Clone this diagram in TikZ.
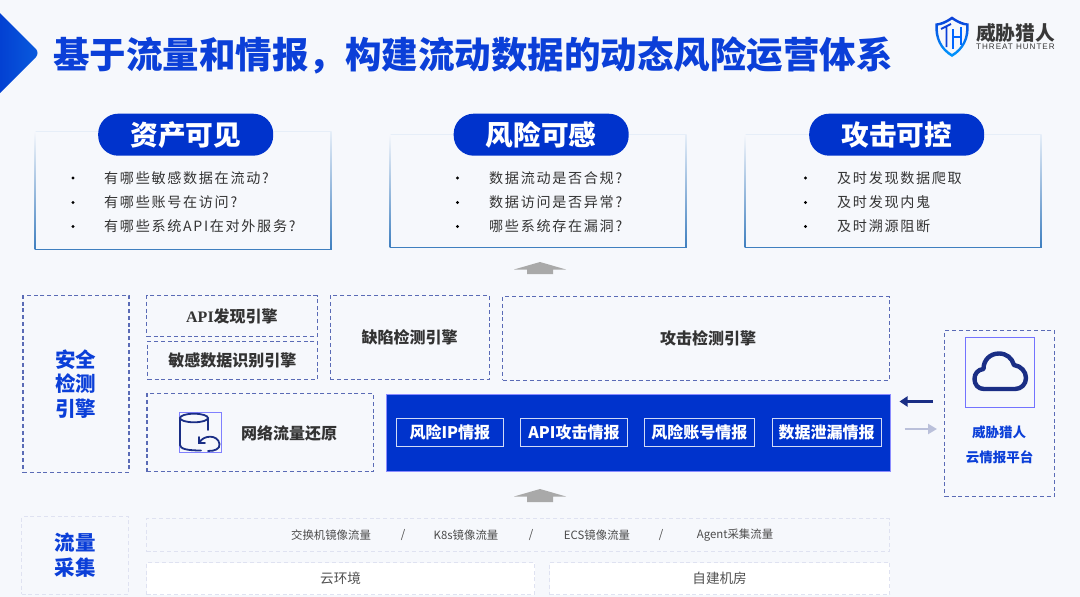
\documentclass[tikz,border=0pt]{standalone}
\usepackage{fontspec}
\usetikzlibrary{arrows.meta}
\setmainfont{Noto Sans CJK SC}
\newfontfamily\cjk{Noto Sans CJK SC}
\newfontfamily\cjkt[LetterSpace=12]{Noto Sans CJK SC}
\newfontfamily\latnw[LetterSpace=12]{Liberation Sans}
\newfontfamily\serifl{Liberation Serif}
\definecolor{bgc}{HTML}{F6F8FC}
\definecolor{mainblue}{HTML}{0033CC}
\definecolor{titleblue}{HTML}{0B3FD8}
\definecolor{dashc}{HTML}{5A6BB6}
\definecolor{lightd}{HTML}{DFE2F1}
\definecolor{navy}{HTML}{1A2E85}
\definecolor{framec}{HTML}{3F7FBF}
\definecolor{framelt}{HTML}{E6EEF8}
\definecolor{txt}{HTML}{333333}
\definecolor{arrowg}{HTML}{A9A9A9}
\tikzset{
  x=1pt,y=-1pt,
  box/.style={draw=dashc,line width=1.4pt,dash pattern=on 4pt off 2.8pt,anchor=north west,inner sep=0pt,rectangle},
  lbox/.style={draw=lightd,line width=1.2pt,dash pattern=on 4pt off 2.8pt,anchor=north west,inner sep=0pt,rectangle},
  wbox/.style={lbox,fill=white,text=black!68,font=\cjk\fontsize{13.6}{15}\selectfont},
  ebox/.style={box,font=\cjk\bfseries\fontsize{16}{18}\selectfont,text=txt},
  intelbox/.style={draw=white!82!mainblue,line width=.9pt,anchor=north west,inner sep=0pt,rectangle,text=white,font=\cjk\bfseries\fontsize{16}{18}\selectfont},
  pill/.style={fill=mainblue,rounded corners=20pt,anchor=north west,inner sep=0pt,rectangle,text=white,font=\cjk\bfseries\fontsize{27.7}{30}\selectfont},
  rowtxt/.style={text=txt,font=\cjkt\fontsize{14.1}{16}\selectfont,anchor=west,inner sep=0pt},
  bul/.style={circle,fill=black,inner sep=0pt,minimum size=3.4pt},
  flow/.style={text=black!70,font=\cjk\fontsize{11.4}{13}\selectfont,inner sep=0pt},
  side/.style={text=titleblue,font=\cjk\bfseries\fontsize{20.5}{24.5}\selectfont,align=center,inner sep=0pt},
  grayup/.style={fill=arrowg,draw=none},
}
\newcommand{\cardframe}[4]{% x0 y0 x1 y1
  \draw[framelt,line width=1pt] (#1,#2) -- (#3,#2);
  \shade[top color=bgc,bottom color=framec] (#1-.5,#2) rectangle (#1+.5,#4);
  \shade[top color=framelt,bottom color=framec] (#3-.5,#2) rectangle (#3+.5,#4);
  \draw[framec,line width=1pt] (#1-.5,#4) -- (#3+.5,#4);
}
\begin{document}
\begin{tikzpicture}
\useasboundingbox (0,0) rectangle (1080,597);
\fill[bgc] (0,0) rectangle (1080,597);

% corner marker
\shade[left color=mainblue,right color=titleblue!85!cyan,rounded corners=6pt]
  (-20,-7) -- (40,53) -- (-20,113) -- cycle;

% title
\node[anchor=west,inner sep=0pt,text=titleblue,font=\cjk\bfseries\fontsize{36.5}{40}\selectfont] (title) at (53,55)
  {基于流量和情报，构建流动数据的动态风险运营体系};

% logo
\shade[top color=titleblue,bottom color=cyan!60!blue,even odd rule]
  (952,16.5) .. controls (944,22) and (940,23) .. (935.5,23.5) .. controls (934,38) and (940,50) .. (952,57)
  .. controls (964,50) and (970,38) .. (968.5,23.5) .. controls (964,23) and (960,22) .. (952,16.5) -- cycle
  (952,19.5) .. controls (945,24) and (942,25) .. (938,25.5) .. controls (937,38) and (942,48) .. (952,54)
  .. controls (962,48) and (967,38) .. (966,25.5) .. controls (962,25) and (959,24) .. (952,19.5) -- cycle;
\draw[titleblue,line width=1.8pt] (941,29) -- (951,24) (946.5,27) -- (946.5,47);
\draw[blue!60!cyan,line width=1.8pt] (953,29) -- (953,49) (961,27) -- (961,45) (953,37) -- (961,37);
\node[anchor=west,inner sep=0pt,text=black!78,font=\cjk\bfseries\fontsize{19.7}{21}\selectfont] (logocn) at (976,32.5) {威胁猎人};
\node[anchor=west,inner sep=0pt,text=black!78,font=\latnw\fontsize{8.1}{9}\selectfont] (logoen) at (976,47) {THREAT HUNTER};

% cards
\cardframe{35}{131.5}{331}{249}
\cardframe{390}{134.5}{686}{247}
\cardframe{745}{134.5}{1041}{247}
\node[pill,minimum width=175pt,minimum height=42pt] (p1) at (98,113.5) {资产可见};
\node[pill,minimum width=175pt,minimum height=42pt] (p2) at (453.5,113.5) {风险可感};
\node[pill,minimum width=175pt,minimum height=42pt] (p3) at (809,113.5) {攻击可控};

\node[bul] (b11) at (73,178) {}; \node[rowtxt] (t11) at (104,178) {有哪些敏感数据在流动?};
\node[bul] (b12) at (73,202.5) {}; \node[rowtxt] (t12) at (104,202.5) {有哪些账号在访问?};
\node[bul] (b13) at (73,226.5) {}; \node[rowtxt] (t13) at (104,226.5) {有哪些系统API在对外服务?};
\node[bul] (b21) at (457.5,178) {}; \node[rowtxt] (t21) at (489,178) {数据流动是否合规?};
\node[bul] (b22) at (457.5,202.5) {}; \node[rowtxt] (t22) at (489,202.5) {数据访问是否异常?};
\node[bul] (b23) at (457.5,226.5) {}; \node[rowtxt] (t23) at (489,226.5) {哪些系统存在漏洞?};
\node[bul] (b31) at (805.5,178) {}; \node[rowtxt] (t31) at (837,178) {及时发现数据爬取};
\node[bul] (b32) at (805.5,202.5) {}; \node[rowtxt] (t32) at (837,202.5) {及时发现内鬼};
\node[bul] (b33) at (805.5,226.5) {}; \node[rowtxt] (t33) at (837,226.5) {及时溯源阻断};

% gray up arrows
\fill[grayup] (540,262) -- (566,269.5) -- (553,269.5) -- (553,274) -- (527,274) -- (527,269.5) -- (514,269.5) -- cycle;
\fill[grayup] (540,489) -- (566,496.5) -- (553,496.5) -- (553,502) -- (527,502) -- (527,496.5) -- (514,496.5) -- cycle;

% detection layer
\node[box,minimum width=106pt,minimum height=176.5pt,side] (sec) at (22.3,295) {安全\\检测\\引擎};
\node[ebox,minimum width=170.5pt,minimum height=40.5pt] (api) at (146,295) {{\serifl\bfseries API}发现引擎};
\node[ebox,minimum width=169.5pt,minimum height=38.5pt] (sens) at (147,340.5) {敏感数据识别引擎};
\node[ebox,minimum width=159pt,minimum height=83.5pt] (defect) at (329.5,295) {缺陷检测引擎};
\node[box,minimum width=386.5pt,minimum height=83.5pt] (attack) at (502,296) {};
\node[inner sep=0pt,text=txt,font=\cjk\bfseries\fontsize{16}{18}\selectfont] (attacktxt) at (708,338) {攻击检测引擎};
\node[box,minimum width=226.5pt,minimum height=78pt] (net) at (146.3,393) {};
\node[anchor=west,inner sep=0pt,text=txt,font=\cjk\bfseries\fontsize{16}{18}\selectfont] (nettxt) at (241,433) {网络流量还原};

% net icon
\node[draw=blue!50!white,line width=.9pt,anchor=north west,inner sep=0pt,minimum width=42.5pt,minimum height=40.5pt] (neticon) at (178.5,411.7) {};
\begin{scope}[draw=navy,line width=1.8pt,line cap=round]
  \draw (194,418) ellipse [x radius=14,y radius=4.3];
  \draw (180,418) -- (180,445) .. controls (180,449) and (188,450.5) .. (201,450.5);
  \draw (208,418) -- (208,430);
  \draw (199,437) -- (199,443) -- (205,443);
  \draw (199.5,442.5) .. controls (203,435) and (218,434) .. (219.5,444) .. controls (220,449) and (215,451) .. (208,451);
\end{scope}

% intelligence band
\node[fill=mainblue,draw=blue!45!white,line width=.5pt,anchor=north west,inner sep=0pt,minimum width=504pt,minimum height=77.5pt] (band) at (386,393.5) {};
\node[intelbox,minimum width=107.5pt,minimum height=27.7pt] (i1) at (395.6,418) {风险IP情报};
\node[intelbox,minimum width=107pt,minimum height=27.7pt] (i2) at (520,418) {API攻击情报};
\node[intelbox,minimum width=110pt,minimum height=27.7pt] (i3) at (644,418) {风险账号情报};
\node[intelbox,minimum width=109.5pt,minimum height=27.7pt] (i4) at (771.5,418) {数据泄漏情报};

% cloud platform
\node[box,minimum width=110pt,minimum height=165.5pt] (cloud) at (944,330) {};
\node[draw=blue!55!white,line width=1pt,anchor=north west,inner sep=0pt,minimum width=69.5pt,minimum height=69.5pt] (cloudicon) at (964.7,337) {};
\draw[navy,line width=4.4pt,line join=round]
  (984,389) .. controls (978,389) and (974.5,384.5) .. (974.5,379)
  .. controls (974.5,373.5) and (978,369.5) .. (983.5,369)
  .. controls (983.5,360) and (990,353.5) .. (999,353.5)
  .. controls (1006.5,353.5) and (1012,358) .. (1014,365)
  .. controls (1021,366) and (1026,371.5) .. (1026,378)
  .. controls (1026,384.5) and (1021,389) .. (1015,389) -- cycle;
\node[inner sep=0pt,text=titleblue,font=\cjk\bfseries\fontsize{13.5}{15}\selectfont] (cl1) at (999,432.5) {威胁猎人};
\node[inner sep=0pt,text=titleblue,font=\cjk\bfseries\fontsize{13.5}{15}\selectfont] (cl2) at (999.5,457) {云情报平台};

% connectors between band and platform
\coordinate (ya) at (0,401.5);
\coordinate (yb) at (0,429);
\draw[navy,line width=2.6pt,-{Triangle[length=8pt,width=10pt]},shorten <=11pt,shorten >=9pt] (cloud.west |- ya) -- (band.east |- ya);
\draw[navy!30!white,line width=2.6pt,-{Triangle[length=9pt,width=10pt]},shorten <=14pt,shorten >=7pt] (band.east |- yb) -- (cloud.west |- yb);

% collection layer
\node[lbox,minimum width=107pt,minimum height=77.5pt,side,font=\cjk\bfseries\fontsize{20.5}{24.5}\selectfont] (coll) at (21,516) {流量\\采集};
\node[lbox,minimum width=743pt,minimum height=33pt] (row) at (146,518) {};
\node[flow] (f1) at (331,535) {交换机镜像流量};
\node[flow] (s1) at (403,535) {/};
\node[flow] (f2) at (466,535) {K8s镜像流量};
\node[flow] (s2) at (531,535) {/};
\node[flow] (f3) at (597,535) {ECS镜像流量};
\node[flow] (s3) at (661,535) {/};
\node[flow] (f4) at (735,535) {Agent采集流量};
\node[wbox,minimum width=388pt,minimum height=32pt] (env1) at (146,562) {云环境};
\node[wbox,minimum width=340pt,minimum height=32pt] (env2) at (549,562) {自建机房};
\end{tikzpicture}
\end{document}
